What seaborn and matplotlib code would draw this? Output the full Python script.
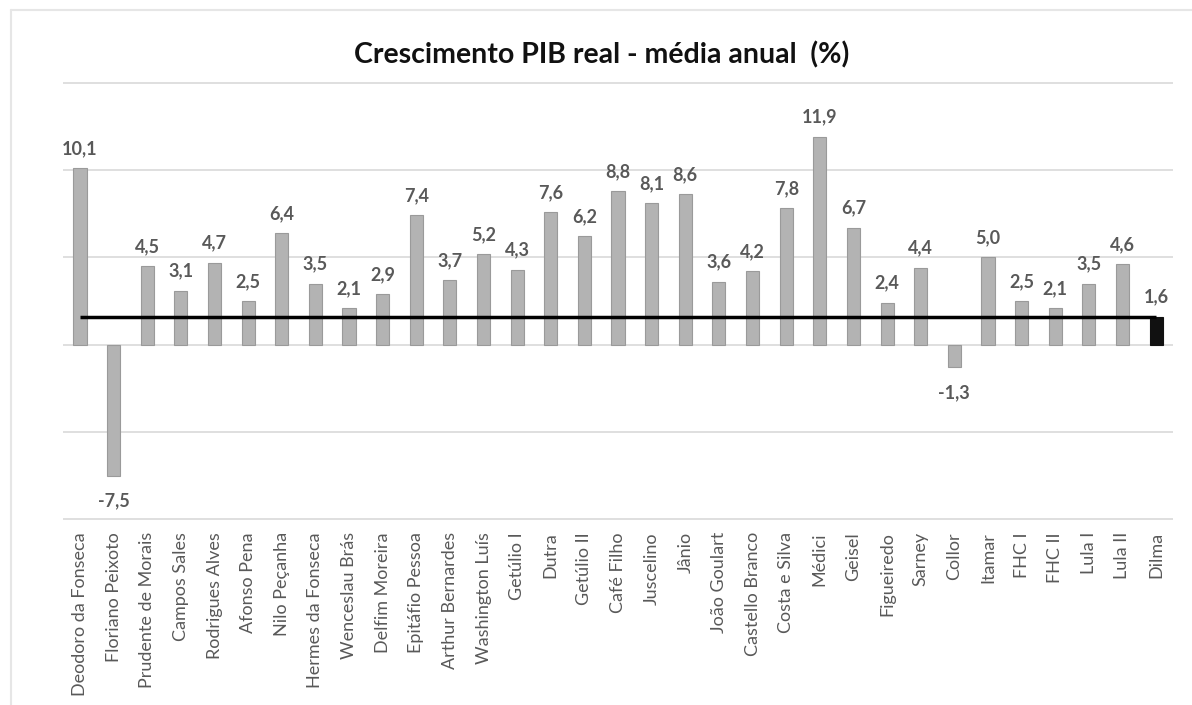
import matplotlib
matplotlib.use("Agg")
import matplotlib.pyplot as plt
import seaborn as sns

presidentes = ["Deodoro da Fonseca", "Floriano Peixoto", "Prudente de Morais", "Campos Sales",
               "Rodrigues Alves", "Afonso Pena", "Nilo Peçanha", "Hermes da Fonseca",
               "Wenceslau Brás", "Delfim Moreira", "Epitáfio Pessoa", "Arthur Bernardes",
               "Washington Luís", "Getúlio I", "Dutra", "Getúlio II", "Café Filho", "Juscelino",
               "Jânio", "João Goulart", "Castello Branco", "Costa e Silva", "Médici", "Geisel",
               "Figueiredo", "Sarney", "Collor", "Itamar", "FHC I", "FHC II", "Lula I", "Lula II",
               "Dilma"]
crescimento = [10.1, -7.5, 4.5, 3.1, 4.7, 2.5, 6.4, 3.5, 2.1, 2.9, 7.4, 3.7, 5.2, 4.3, 7.6, 6.2,
               8.8, 8.1, 8.6, 3.6, 4.2, 7.8, 11.9, 6.7, 2.4, 4.4, -1.3, 5.0, 2.5, 2.1, 3.5, 4.6,
               1.6]
destaque = "Dilma"
linha_ref = 1.6

sns.set_style("white")
plt.rcParams['font.family'] = ['Lato', 'DejaVu Sans']

fig = plt.figure(figsize=(11.92, 7.05), dpi=100)
ax = fig.add_axes([0.053, 0.262, 0.931, 0.622])

cores = ["#111111" if p == destaque else "#b3b3b3" for p in presidentes]
sns.barplot(x=presidentes, y=crescimento, hue=presidentes, palette=cores, legend=False,
            width=0.39, edgecolor="#9a9a9a", linewidth=0.8, ax=ax, zorder=2)
for p, nome in zip(ax.patches, presidentes):
    if nome == destaque:
        p.set_edgecolor("#111111")

ax.set_ylim(-10.05, 15.05)
ax.set_xlim(-0.5, len(presidentes) - 0.5)
ax.set_yticks([-10, -5, 0, 5, 10, 15])
ax.yaxis.grid(True, color="#d9d9d9", linewidth=1.2, zorder=0)
ax.set_axisbelow(True)
ax.tick_params(axis="y", left=False, labelleft=False)
ax.tick_params(axis="x", bottom=False, pad=5)
for s in ax.spines.values():
    s.set_visible(False)

ax.hlines(linha_ref, 0, len(presidentes) - 1, color="black", linewidth=2.5, zorder=3)

for i, v in enumerate(crescimento):
    txt = f"{v:.1f}".replace(".", ",")
    if v >= 0:
        ax.annotate(txt, (i, v), xytext=(0, 8), textcoords="offset points",
                    ha="center", va="bottom", fontsize=13, fontweight="bold", color="#595959")
    else:
        ax.annotate(txt, (i, v), xytext=(0, -12), textcoords="offset points",
                    ha="center", va="top", fontsize=13, fontweight="bold", color="#595959")

ax.set_xticks(range(len(presidentes)))
ax.set_xticklabels(presidentes, rotation=90, fontsize=13, color="#595959")
ax.set_xlabel("")
ax.set_ylabel("")

fig.text(0.505, 0.922, "Crescimento PIB real - média anual  (%)", ha="center", va="center",
         fontsize=20.5, fontweight="bold", color="#111111")

# borda do gráfico (canto superior esquerdo)
fig.add_artist(plt.Line2D([11 / 1192, 11 / 1192], [0, 1 - 10 / 705], color="#e6e6e6", linewidth=1.5))
fig.add_artist(plt.Line2D([11 / 1192, 1], [1 - 10 / 705, 1 - 10 / 705], color="#e6e6e6", linewidth=1.5))

fig.savefig("out.png", dpi=100)
